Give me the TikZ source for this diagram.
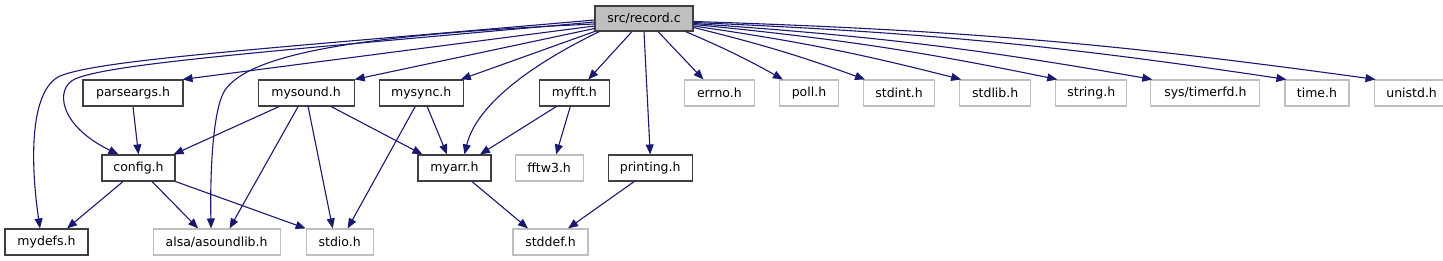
\documentclass[tikz,border=0pt]{standalone}
\usepackage{fontspec}
\setmainfont{DejaVu Sans}
\usepackage{tikz}
\usetikzlibrary{arrows.meta, positioning}
\definecolor{edgeblue}{HTML}{191970}

\begin{document}
\begin{tikzpicture}[x=1pt, y=-1pt, node distance=24pt,
        file/.style={rectangle, draw=black!75, fill=white, line width=1.1pt, minimum height=26pt, inner sep=0pt, font=\fontsize{12.5}{15}\selectfont},
        sysfile/.style={file, draw=black!25},
        srcfile/.style={file, fill=black!25},
        line/.style={draw, -{Triangle[length=10pt, width=8pt]}, edgeblue, line width=1.1pt}]

        \useasboundingbox (0,0) rectangle (1443,261);

        \node [srcfile, minimum width=98pt, minimum height=25pt] (record) at (644,18.5) {src/record.c};

        % includes of record.c
        \node [file, minimum width=100pt] (parseargs) at (133,93) {parseargs.h};
        \node [file, minimum width=96pt, right=74pt of parseargs] (mysound) {mysound.h};
        \node [file, minimum width=84pt, right=24pt of mysound] (mysync) {mysync.h};
        \node [file, minimum width=70pt, right=75pt of mysync] (myfft) {myfft.h};
        \node [sysfile, minimum width=70pt, right=74pt of myfft] (errno) {errno.h};
        \node [sysfile, minimum width=59pt, right=24pt of errno] (poll) {poll.h};
        \node [sysfile, minimum width=71pt, right=24pt of poll] (stdint) {stdint.h};
        \node [sysfile, minimum width=71pt, right=24pt of stdint] (stdlib) {stdlib.h};
        \node [sysfile, minimum width=71pt, right=24pt of stdlib] (string) {string.h};
        \node [sysfile, minimum width=109pt, right=23pt of string] (timerfd) {sys/timerfd.h};
        \node [sysfile, minimum width=64pt, right=24pt of timerfd] (time) {time.h};
        \node [sysfile, minimum width=75pt, right=24pt of time] (unistd) {unistd.h};

        % second level
        \node [file, minimum width=73pt] (config) at (138.5,168) {config.h};
        \node [file, minimum width=73pt] (myarr) at (454.5,168) {myarr.h};
        \node [sysfile, minimum width=68pt, right=23pt of myarr] (fftw3) {fftw3.h};
        \node [file, minimum width=84pt, right=24pt of fftw3] (printing) {printing.h};

        % third level
        \node [file, minimum width=83pt] (mydefs) at (46.5,242) {mydefs.h};
        \node [sysfile, minimum width=127pt, right=64pt of mydefs] (alsa) {alsa/asoundlib.h};
        \node [sysfile, minimum width=67pt, right=25pt of alsa] (stdio) {stdio.h};
        \node [sysfile, minimum width=75pt] (stddef) at (550.5,242) {stddef.h};

        % edges from record.c
        \path [line] ([yshift=-1.5pt]record.west) .. controls (250,50) and (100,60) .. (60,76) .. controls (30,90) and (30,160) .. ([xshift=-6.5pt]mydefs.north);
        \path [line] ([yshift=-3.5pt]record.west) .. controls (250,53) and (110,64) .. (75,79) .. controls (55,88) and (58,125) .. ([xshift=-20pt]config.north);
        \path [line] ([yshift=-5.5pt]record.west) .. controls (350,35) and (250,55) .. (225,90) .. controls (212,110) and (210,180) .. ([xshift=-5.5pt]alsa.north);
        \path [line] ([yshift=-7.5pt]record.west) -- ([xshift=-1pt]parseargs.north east);
        \path [line] ([yshift=-10pt]record.west) -- (mysound.north east);
        \path [line] (record.south west) -- ([xshift=-3pt]mysync.north east);
        \path [line] ([xshift=5pt]record.south west) .. controls (520,70) and (475,110) .. ([xshift=10pt]myarr.north);
        \path [line] ([xshift=-12pt]record.south) -- ([xshift=14pt]myfft.north);
        \path [line] (record.south) -- (printing.north);
        \path [line] ([xshift=14pt]record.south) -- ([xshift=-16pt]errno.north);
        \path [line] ([xshift=-8pt]record.south east) to[bend left=3] ([xshift=4pt]poll.north west);
        \path [line] ([yshift=-9pt]record.east) to[bend left=3] ([xshift=2pt]stdint.north west);
        \path [line] ([yshift=-7.5pt]record.east) to[bend left=3] ([xshift=2pt]stdlib.north west);
        \path [line] ([yshift=-6pt]record.east) to[bend left=3] ([xshift=2pt]string.north west);
        \path [line] ([yshift=-5pt]record.east) to[bend left=3] ([xshift=2pt]timerfd.north west);
        \path [line] ([yshift=-4pt]record.east) to[bend left=3] ([xshift=2pt]time.north west);
        \path [line] ([yshift=-3pt]record.east) to[bend left=3] ([xshift=2pt]unistd.north west);

        % edges between headers
        \path [line] (parseargs.south) -- (config.north);
        \path [line] ([xshift=-27pt]mysound.south) -- ([xshift=-2pt]config.north east);
        \path [line] ([xshift=-8pt]mysound.south) -- ([xshift=13pt]alsa.north);
        \path [line] ([xshift=2pt]mysound.south) -- ([xshift=-7pt]stdio.north);
        \path [line] ([xshift=25pt]mysound.south) -- ([xshift=5pt]myarr.north west);
        \path [line] ([xshift=-6pt]mysync.south) -- ([xshift=8pt]stdio.north);
        \path [line] ([xshift=6pt]mysync.south) -- ([xshift=-7.5pt]myarr.north);
        \path [line] ([xshift=-18pt]myfft.south) -- ([xshift=25.5pt]myarr.north);
        \path [line] ([xshift=-4pt]myfft.south) -- ([xshift=7pt]fftw3.north);
        \path [line] ([xshift=-15.5pt]config.south) -- ([xshift=20.5pt]mydefs.north);
        \path [line] ([xshift=13.5pt]config.south) -- ([xshift=-18.5pt]alsa.north);
        \path [line] (config.south east) -- (stdio.north west);
        \path [line] ([xshift=17.5pt]myarr.south) -- ([xshift=-22.5pt]stddef.north);
        \path [line] ([xshift=-16pt]printing.south) -- ([xshift=17.5pt]stddef.north);
    \end{tikzpicture}
\end{document}
